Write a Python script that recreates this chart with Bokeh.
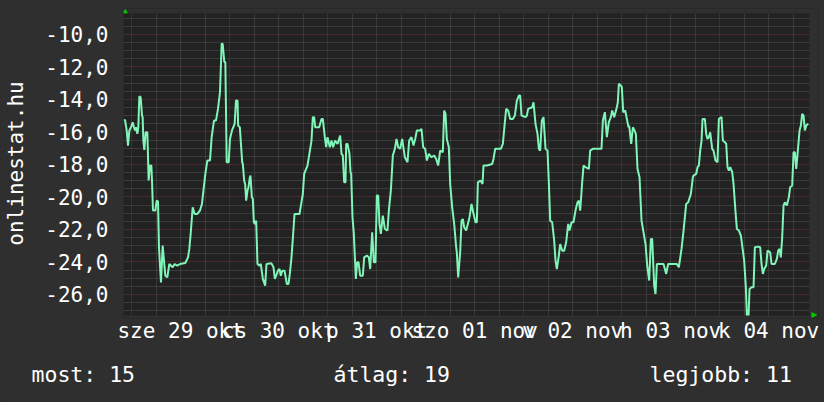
from bokeh.plotting import figure
from bokeh.layouts import column
from bokeh.models import FixedTicker, AllLabels, Range1d, BoxAnnotation, PolyAnnotation
from bokeh.core.properties import value
from bokeh.embed import file_html
from bokeh.resources import INLINE

# ---- data (hours since 29 Oct 00:00, value) ----
hours = [
    -1.88, -1.63, -1.22, -0.90, -0.57, -0.16, 0.24, 0.57, 0.82, 1.06, 1.39, 1.63, 1.88, 2.20, 2.53, 2.69,
    2.86, 3.10, 3.43, 3.84, 4.16, 4.49, 4.82, 4.98, 5.22, 5.80, 6.12, 6.45, 6.69, 7.18, 7.59, 8.24,
    8.73, 9.22, 10.04, 10.53, 11.18, 11.84, 13.14, 13.80, 14.12, 14.45, 14.94, 15.43, 16.08, 16.73, 17.22,
    18.04, 18.53, 19.18, 19.59, 20.16, 20.65, 21.14, 21.63, 22.04, 22.29, 22.69, 22.94, 23.27, 23.76,
    24.08, 24.57, 25.22, 25.55,
    25.92, 26.08, 26.49, 27.06, 27.22, 27.55, 27.79, 28.04, 28.37, 28.61, 28.94, 29.10, 29.43, 29.67,
    29.92, 30.16, 30.49, 30.81, 31.30, 31.63, 32.12, 32.69, 33.02, 34.24, 34.73, 35.06, 35.55, 35.79,
    36.20, 36.53, 36.86, 37.43, 38.00, 38.41, 38.73, 39.14, 39.55, 39.88, 41.10, 41.51, 41.92, 42.24,
    43.06, 44.04, 44.37, 44.69, 44.94, 45.92, 46.49, 46.81, 47.30, 47.63, 47.96, 48.53, 48.94, 49.34,
    49.83, 50.41, 51.06, 51.39, 51.71, 52.04, 52.37, 52.53, 52.86, 53.34,
    53.59, 53.75, 54.08, 54.41, 54.90, 55.22, 55.55, 55.96, 56.61, 56.94, 57.59, 58.08, 58.41, 58.90,
    59.31, 59.71, 60.04, 60.37, 60.69, 61.02, 61.51, 62.00, 62.65, 62.98, 63.47, 63.96, 64.45, 64.86,
    65.27, 65.76, 66.24, 66.90, 67.55, 67.96, 68.53, 69.02, 69.43, 69.84, 70.65, 70.98, 71.39, 71.88,
    72.29, 72.78, 73.43, 74.08, 74.57, 75.06, 75.55, 76.20, 76.53, 76.86, 77.18, 77.67, 78.00, 78.49,
    78.98, 79.47, 79.63, 79.96, 80.45, 80.78, 81.10, 81.43, 81.92,
    82.33, 82.74, 83.23, 83.63, 84.21, 84.53, 84.78, 85.43, 85.92, 86.16, 86.98, 88.29, 88.61, 89.02,
    90.41, 90.90, 91.31, 91.72, 92.20, 92.70, 93.35, 93.84, 94.33, 94.82, 95.14, 95.47, 96.45, 96.78,
    97.10, 98.08, 98.41, 98.90, 99.39, 99.72, 100.04, 100.45, 100.86, 101.35, 101.84, 102.16, 102.49,
    102.98, 103.47, 103.80, 104.12, 104.61, 104.94, 105.43, 105.92, 106.41, 106.90, 107.23, 107.72,
    108.20, 108.69, 109.18, 109.51, 109.84,
    110.33, 110.66, 111.15, 111.96, 112.29, 112.94, 115.06, 115.39, 115.88, 116.37, 116.86, 117.35,
    117.68, 118.17, 118.82, 119.06, 119.31, 119.80, 120.04, 120.37, 120.86, 121.35, 121.68, 121.84,
    122.33, 122.74, 123.15, 123.47, 123.88, 124.37, 124.86, 125.35, 125.84, 126.25, 126.74, 127.15,
    127.47, 127.96, 128.29, 128.62, 130.25, 130.90, 131.39, 133.51, 134.00, 134.66, 135.15, 135.80,
    136.29, 136.94, 137.43,
    137.60, 138.25, 138.58, 138.90, 139.23, 139.56, 139.80, 140.37, 140.70, 141.02, 141.35, 141.68,
    141.92, 142.17, 142.49, 142.98, 143.47, 143.80, 144.45, 144.78, 145.27, 145.60, 145.92, 146.25,
    146.58, 147.07, 147.39, 147.88, 148.21, 148.70, 149.19, 149.68, 150.00, 150.41, 150.66, 151.07,
    151.31, 151.80, 152.29, 152.62, 153.43, 153.92, 154.25, 154.58, 154.90, 155.39, 155.72, 156.37,
    156.70, 157.51, 158.00, 158.33, 158.66, 158.98, 159.31, 159.64, 159.96, 160.45, 160.94, 161.27,
    161.76, 162.09, 162.41, 162.74, 163.07, 163.56, 163.88, 164.21, 164.54, 164.86, 165.19, 165.68,
]
values = [
    -15.30, -15.26, -15.91, -16.84, -15.91, -15.71, -15.40, -15.71, -15.91, -15.71, -16.12, -15.71, -13.80, -13.86, -14.99, -15.09,
    -16.53, -17.10, -16.02, -16.02, -18.99, -18.07, -18.07, -18.99, -20.84, -20.84, -20.23, -20.27, -23.10, -25.26, -23.00, -24.85,
    -24.95, -24.13, -24.33, -24.13, -24.23, -24.13, -24.07, -23.72, -23.20, -22.28, -20.64, -21.05, -21.05, -20.84, -20.43,
    -18.58, -17.76, -17.76, -16.32, -15.30, -15.30, -14.58, -13.55, -10.57, -10.57, -11.70, -11.70, -17.86, -17.86,
    -16.43, -15.91, -15.50, -14.07,
    -14.07, -15.61, -15.71, -17.86, -17.97, -18.99, -19.20, -20.23, -19.61, -19.40, -18.79, -18.69, -20.02, -20.12,
    -21.56, -21.66, -21.46, -24.13, -24.23, -24.13, -25.05, -25.46, -24.13, -24.09, -24.33, -25.05, -24.74, -24.54,
    -24.44, -24.85, -24.54, -24.54, -25.36, -25.36, -24.74, -23.72, -22.28, -21.05, -21.05, -20.43, -19.82, -18.58,
    -18.07, -16.53, -15.09, -15.09, -15.71, -15.71, -15.20, -15.20, -16.32, -16.94, -16.32, -16.94, -16.53, -16.94,
    -16.53, -16.74, -16.22, -17.35, -17.45, -19.10, -19.10, -16.74, -16.74, -17.35,
    -18.48, -18.58, -21.25, -22.28, -25.05, -24.02, -24.02, -24.85, -24.85, -23.72, -23.61, -23.72, -24.44, -22.18,
    -24.02, -24.02, -19.92, -19.92, -21.66, -22.28, -21.15, -21.97, -22.07, -20.84, -19.61, -17.45, -17.04, -16.43,
    -16.94, -17.04, -16.43, -17.56, -17.86, -16.53, -16.32, -16.84, -16.43, -15.91, -15.91, -15.81, -16.94, -17.04,
    -17.76, -17.35, -17.56, -17.45, -17.66, -18.07, -17.15, -17.25, -14.68, -14.89, -16.43, -16.94, -19.20, -20.64,
    -21.66, -23.10, -23.41, -24.95, -23.41, -21.46, -21.36, -21.87, -22.07,
    -21.66, -21.25, -20.43, -20.94, -21.56, -21.56, -19.10, -18.99, -19.20, -18.07, -18.07, -17.97, -17.66, -17.04,
    -17.04, -16.74, -15.61, -14.58, -14.68, -15.20, -15.20, -14.99, -14.07, -13.76, -13.76, -14.99, -15.09, -14.99,
    -14.58, -14.48, -14.17, -15.50, -16.12, -17.04, -17.15, -15.30, -15.09, -17.04, -17.15, -19.10, -21.46,
    -21.56, -22.69, -23.92, -24.44, -23.61, -22.90, -23.31, -23.31, -22.79, -21.66, -22.07, -21.56,
    -21.56, -20.84, -20.33, -20.23, -20.84,
    -19.10, -18.07, -18.17, -18.28, -17.15, -17.04, -17.04, -15.30, -14.78, -16.32, -15.40, -15.09,
    -14.68, -15.09, -14.48, -14.17, -13.04, -13.14, -13.24, -14.78, -14.68, -15.30, -15.71, -15.61,
    -16.74, -15.71, -15.91, -16.12, -18.28, -18.79, -21.46, -22.18, -22.90, -24.23, -25.15, -22.59,
    -22.59, -25.46, -25.98, -24.13, -24.13, -24.74, -24.13, -24.13, -24.33, -23.20, -22.07, -20.43,
    -20.33, -19.82, -18.79,
    -18.69, -18.58, -18.17, -18.07, -17.15, -16.53, -15.20, -15.20, -16.12, -16.43, -16.32, -16.02,
    -16.53, -17.04, -17.15, -17.76, -17.86, -15.20, -15.09, -16.53, -16.63, -16.74, -18.17, -18.38,
    -18.17, -18.48, -19.20, -20.94, -21.97, -22.07, -22.38, -23.31, -23.92, -25.56, -27.31, -27.31,
    -25.67, -25.56, -25.56, -23.10, -23.06, -23.10, -24.13, -24.74, -24.44, -24.23, -23.31, -23.41,
    -24.13, -24.13, -23.82, -23.31, -23.20, -23.72, -22.48, -20.53, -20.33, -20.53, -20.02, -19.40,
    -19.30, -17.25, -17.25, -18.28, -17.35, -15.91, -15.61, -14.89, -14.99, -15.91, -15.61, -15.50,
]

y_ticks = [-26, -24, -22, -20, -18, -16, -14, -12, -10]
y_tick_labels = ["-26,0", "-24,0", "-22,0", "-20,0", "-18,0", "-16,0", "-14,0", "-12,0", "-10,0"]
day_labels = ["sze 29 okt", "cs 30 okt", "p 31 okt", "szo 01 nov", "v 02 nov", "h 03 nov", "k 04 nov"]
stat_names = ["most", "átlag", "legjobb"]
stat_values = [15, 19, 11]
y_title = "onlinestat.hu"

# ---- style ----
BG = "#2f2f2f"
PLOT_BG = "#222222"
LINE = "#7ff5b8"
TEXT = "#ffffff"
MAJOR = "#6e3232"
MINOR = "#525252"
ARROW = "#00cc00"
FONT = "DejaVu Sans Mono"
FS = "21px"

W = 824
H_MAIN = 350
H_STATS = 52

# visible plot area: x -2..166 h, y -27.3..-8.71; the frame is a few px larger
# so that the small axis arrows just outside the plot area can be drawn
X0, X1 = -2, 166
Y0, Y1 = -27.3, -8.71

p = figure(width=W, height=H_MAIN, output_backend="svg", toolbar_location=None,
           x_range=Range1d(X0, 168.2), y_range=Range1d(-27.485, -8.40),
           min_border_left=123, min_border_right=6, min_border_top=8, min_border_bottom=32,
           background_fill_color=PLOT_BG, border_fill_color=BG, outline_line_color=None)

try:
    from bokeh.models import GlobalInlineStyleSheet
    p.stylesheets = [GlobalInlineStyleSheet(css="html, body { background: %s; }" % BG)]
except Exception:
    pass

noons = [24 * i + 12 for i in range(len(day_labels))]
midnights = [24 * i for i in range(len(day_labels))]
six_hours = [6 * k for k in range(0, 28) if k % 4 != 0]
y_minor = [v / 2 for v in range(-54, -16) if v % 4 != 0]

p.xaxis.ticker = FixedTicker(ticks=noons, minor_ticks=[])
p.xaxis.major_label_overrides = {t: lab for t, lab in zip(noons, day_labels)}
p.yaxis.ticker = FixedTicker(ticks=y_ticks, minor_ticks=[])
p.yaxis.major_label_overrides = {t: lab for t, lab in zip(y_ticks, y_tick_labels)}

for ax in (p.xaxis[0], p.yaxis[0]):
    ax.axis_line_color = None
    ax.major_tick_line_color = None
    ax.minor_tick_line_color = None
    ax.major_tick_out = 0
    ax.major_tick_in = 0
    ax.major_label_text_font = FONT
    ax.major_label_text_font_size = FS
    ax.major_label_text_color = TEXT
    ax.major_label_policy = AllLabels()
p.xaxis.major_label_standoff = 0
p.yaxis.major_label_standoff = 15

p.yaxis.axis_label = y_title
p.yaxis.axis_label_text_font = FONT
p.yaxis.axis_label_text_font_size = FS
p.yaxis.axis_label_text_font_style = "normal"
p.yaxis.axis_label_text_color = TEXT
p.yaxis.axis_label_standoff = 14

p.xgrid.ticker = FixedTicker(ticks=midnights, minor_ticks=six_hours)
p.ygrid.ticker = FixedTicker(ticks=y_ticks, minor_ticks=y_minor)
for g in (p.xgrid[0], p.ygrid[0]):
    g.grid_line_color = MAJOR
    g.grid_line_dash = "1 1"
    g.grid_line_width = 1
    g.minor_grid_line_color = MINOR
    g.minor_grid_line_dash = "1 1"
    g.minor_grid_line_width = 1

p.line(hours, values, line_color=LINE, line_width=2)

# mask the margin strips of the frame outside the plot area
for box in (BoxAnnotation(bottom=Y1), BoxAnnotation(top=Y0), BoxAnnotation(left=X1)):
    box.fill_color = BG
    box.fill_alpha = 1
    box.line_color = None
    p.add_layout(box)

# small green axis arrows
p.add_layout(PolyAnnotation(xs=[-2.24, -0.92, -1.58], ys=[-8.69, -8.69, -8.42],
                            fill_color=ARROW, fill_alpha=1, line_color=None))
p.add_layout(PolyAnnotation(xs=[166.49, 166.49, 167.96], ys=[-27.085, -27.454, -27.27],
                            fill_color=ARROW, fill_alpha=1, line_color=None))

# ---- statistics row ----
s = figure(width=W, height=H_STATS, output_backend="svg", toolbar_location=None,
           x_range=Range1d(0, W), y_range=Range1d(0, H_STATS),
           x_axis_type=None, y_axis_type=None,
           min_border=0, min_border_left=0, min_border_right=0, min_border_top=0, min_border_bottom=0,
           background_fill_color=BG, border_fill_color=BG, outline_line_color=None)
s.grid.visible = False
for fig in (p, s):
    try:
        fig.frame_align = False
    except Exception:
        pass

stat_x = [31, 333, 649]
stat_text = ["%s: %d" % (n, v) for n, v in zip(stat_names, stat_values)]
s.text(x=stat_x, y=[28] * len(stat_x), text=stat_text, text_align="left",
       text_baseline="alphabetic", text_font=value(FONT), text_font_size="21.5px", text_color=TEXT)

layout = column(p, s, spacing=0)
open("out.html", "w").write(file_html(layout, INLINE))
